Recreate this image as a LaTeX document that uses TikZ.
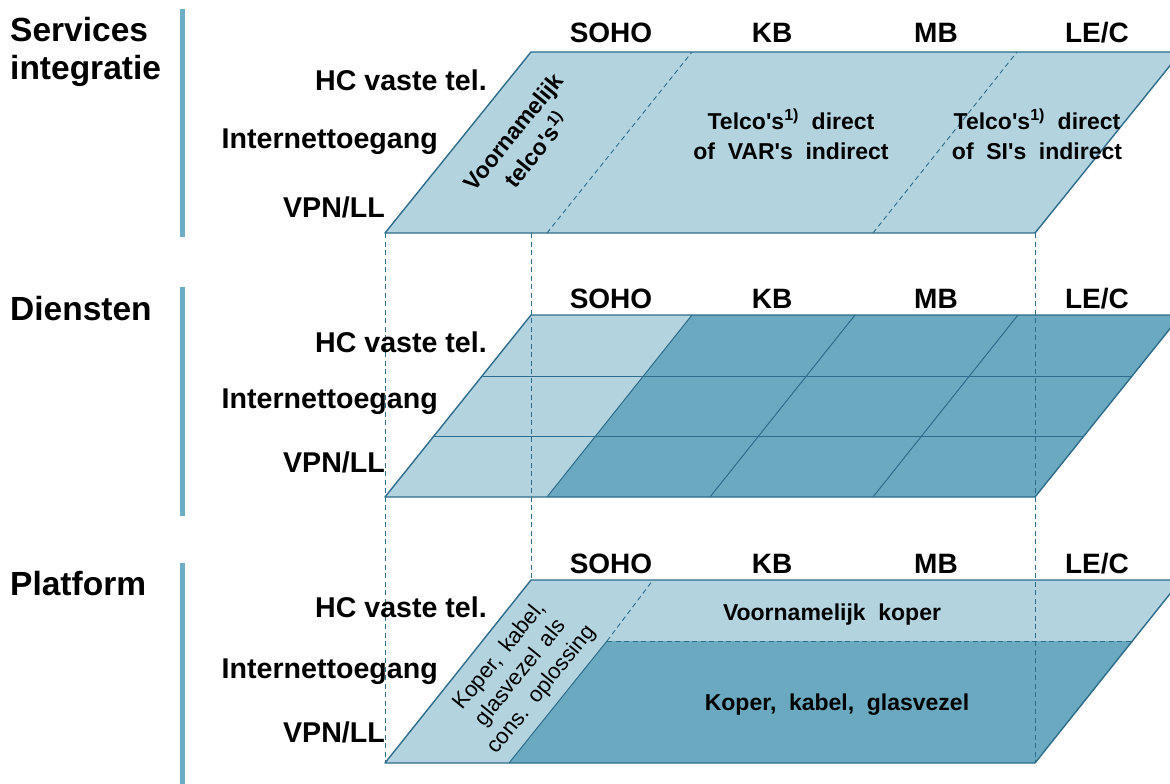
\documentclass[tikz,border=0pt]{standalone}
\usepackage{fontspec}
\newfontfamily\arialfont{Liberation Sans}
\definecolor{lightfill}{HTML}{B3D3DF}
\definecolor{darkfill}{HTML}{6AA9BF}
\definecolor{edgecol}{HTML}{2E6D8C}
\definecolor{barcol}{HTML}{6EADC6}
\begin{document}
\arialfont
\begin{tikzpicture}[x=1pt,y=-1pt,
  layeredge/.style={draw=edgecol, line width=1.4pt, line join=round},
  gridline/.style={draw=edgecol, line width=1pt},
  guide/.style={draw=edgecol, line width=0.9pt, dash pattern=on 5pt off 3.5pt},
  sidebar/.style={fill=barcol, draw=none},
  leftlbl/.style={font=\arialfont\bfseries\fontsize{33.5}{38}\selectfont, inner sep=0, anchor=base west, align=left},
  rowlbl/.style={font=\arialfont\bfseries\fontsize{28.6}{30}\selectfont, inner sep=0, anchor=base east},
  collbl/.style={font=\arialfont\bfseries\fontsize{28}{30}\selectfont, inner sep=0, anchor=base},
  inbold/.style={font=\arialfont\bfseries\fontsize{23}{30}\selectfont, inner sep=0, align=center,
     execute at begin node={\spaceskip=0.55em\relax}},
  inplain/.style={font=\arialfont\fontsize{22}{27}\selectfont, inner sep=0, align=center,
     execute at begin node={\spaceskip=0.45em\relax}}]
\useasboundingbox (0,0) rectangle (1170,784);
\clip (0,0) rectangle (1170,784);

% side bars
\fill[sidebar] (180,9) rectangle (185,237);
\fill[sidebar] (180,287) rectangle (185,516);
\fill[sidebar] (180,563) rectangle (185,784);

% ---------- top layer ----------
\coordinate (tBL) at (385,233);
\coordinate (tTL) at (531,52);
\coordinate (tTR) at (1181,52);
\coordinate (tBR) at (1035,233);
\path[fill=lightfill] (tBL) -- (tTL) -- (tTR) -- (tBR) -- cycle;
\coordinate (tD1b) at (547,233); \coordinate (tD1t) at (692,52);
\coordinate (tD2b) at (873,233); \coordinate (tD2t) at (1017,52);
\draw[guide] (tD1b) -- (tD1t);
\draw[guide] (tD2b) -- (tD2t);
\draw[layeredge] (tBL) -- (tTL) -- (tTR) -- (tBR) -- cycle;

% ---------- middle layer ----------
\coordinate (mBL) at (385,497);
\coordinate (mTL) at (531,315);
\coordinate (mTR) at (1181,315);
\coordinate (mBR) at (1035,497);
\coordinate (mC1b) at (547,497); \coordinate (mC1t) at (692,315);
\coordinate (mC2b) at (710,497); \coordinate (mC2t) at (855,315);
\coordinate (mC3b) at (873,497); \coordinate (mC3t) at (1018,315);
\coordinate (mR1l) at (482,376); \coordinate (mR1r) at (1132,376);
\coordinate (mR2l) at (434,436); \coordinate (mR2r) at (1084,436);
\path[fill=lightfill] (mBL) -- (mTL) -- (mTR) -- (mBR) -- cycle;
\path[fill=darkfill] (mC1b) -- (mC1t) -- (mTR) -- (mBR) -- cycle;
\draw[gridline] (mR1l) -- (mR1r);
\draw[gridline] (mR2l) -- (mR2r);
\draw[gridline] (mC1b) -- (mC1t);
\draw[gridline] (mC2b) -- (mC2t);
\draw[gridline] (mC3b) -- (mC3t);
\draw[layeredge] (mBL) -- (mTL) -- (mTR) -- (mBR) -- cycle;

% ---------- bottom layer ----------
\coordinate (bBL) at (385,763);
\coordinate (bTL) at (531,580);
\coordinate (bTR) at (1181,580);
\coordinate (bBR) at (1035,763);
\coordinate (bS1) at (509,763);
\coordinate (bS2) at (607,641);
\coordinate (bS3) at (653,580);
\coordinate (bS4) at (1133,641);
\path[fill=lightfill] (bBL) -- (bTL) -- (bTR) -- (bBR) -- cycle;
\path[fill=darkfill] (bS1) -- (bS2) -- (bS4) -- (bBR) -- cycle;
\draw[gridline] (bS1) -- (bS2);
\draw[guide] (bS2) -- (bS3);
\draw[guide] (bS2) -- (bS4);
\draw[layeredge] (bBL) -- (bTL) -- (bTR) -- (bBR) -- cycle;

% vertical guides
\coordinate (g1a) at (385,233); \coordinate (g1b) at (385,763);
\coordinate (g2a) at (531,233); \coordinate (g2b) at (531,580);
\coordinate (g3a) at (1035,233); \coordinate (g3b) at (1035,763);
\draw[guide] (g1a) -- (g1b);
\draw[guide] (g2a) -- (g2b);
\draw[guide] (g3a) -- (g3b);

% ---------- left labels ----------
\node[leftlbl] (lSI) at (10,42) {Services};
\node[leftlbl] (lSI2) at (10,80) {integratie};
\node[leftlbl] (lDI) at (10,320) {Diensten};
\node[leftlbl] (lPL) at (10,595) {Platform};

% ---------- column headers ----------
\foreach \yy/\nm in {43/t,308/m,573/b}{
  \node[collbl] (\nm SOHO) at (611,\yy) {SOHO};
  \node[collbl] (\nm KB) at (772,\yy) {KB};
  \node[collbl] (\nm MB) at (936,\yy) {MB};
  \node[collbl] (\nm LEC) at (1097,\yy) {LE/C};
}

% ---------- row labels ----------
\foreach \ya/\yb/\yc/\nm in {90/148/217/t,352/408/472/m,617/678/742/b}{
  \node[rowlbl] (\nm HC) at (487,\ya) {HC vaste tel.};
  \node[rowlbl] (\nm IT) at (438,\yb) {Internettoegang};
  \node[rowlbl] (\nm VPN) at (385,\yc) {VPN/LL};
}

% ---------- inner texts ----------
\node[inbold, rotate=51] (tVoor) at (525,141) {Voornamelijk\\telco's\textsuperscript{1)}};
\node[inbold] (tTelco1) at (791,134) {Telco's\textsuperscript{1)} direct\\of VAR's indirect};
\node[inbold] (tTelco2) at (1037,134) {Telco's\textsuperscript{1)} direct\\of SI's indirect};
\node[inbold, anchor=base] (bKoper1) at (832,620) {Voornamelijk koper};
\node[inbold, anchor=base] (bKoper2) at (837,710) {Koper, kabel, glasvezel};
\node[inplain, rotate=51] (bKoper3) at (521,673) {Koper, kabel,\\glasvezel als\\cons. oplossing};
\end{tikzpicture}
\end{document}
